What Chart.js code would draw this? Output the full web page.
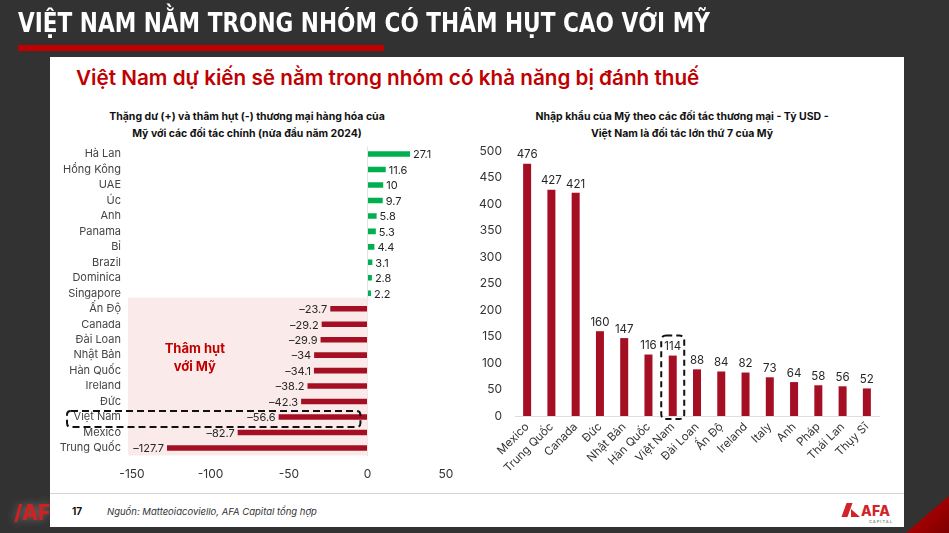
<!DOCTYPE html>
<html lang="vi">
<head>
<meta charset="utf-8">
<script src="https://cdn.jsdelivr.net/npm/chart.js@4.4.1/dist/chart.umd.min.js"></script>
<style>
    html, body { margin: 0; padding: 0; }
    body {
        width: 949px; height: 533px; overflow: hidden; position: relative;
        background: #323232;
        font-family: Inter, "Noto Sans", sans-serif;
    }
    .headline {
        position: absolute; left: 18px; top: 7px;
        color: #fff; font-family: "Liberation Sans Narrow", "DejaVu Sans Condensed", sans-serif;
        font-weight: bold; font-size: 27px; white-space: nowrap;
        transform-origin: left top;
    }
    .redbar { position: absolute; left: 18px; top: 45px; width: 366px; height: 6px; background: #c00000; }
    .corner {
        position: absolute; left: 900px; top: 480px; width: 49px; height: 53px;
        background: linear-gradient(135deg, #e00000, #7a0000);
        clip-path: polygon(100% 30%, 100% 100%, 12% 100%);
    }
    .ghost-logo {
        position: absolute; left: 14px; top: 500px; color: #d02020;
        font-weight: 800; font-size: 21px; filter: blur(0.6px);
        text-shadow: 0 0 10px rgba(255,255,255,0.35);
    }
    .panel { position: absolute; left: 50px; top: 57px; width: 854px; height: 470px; background: #fff; }
    .subtitle {
        position: absolute; left: 76px; top: 65px; color: #c00000;
        font-size: 20.7px; font-weight: 600; white-space: nowrap;
    }
    .ctitle {
        position: absolute; top: 108px; width: 360px; text-align: center;
        font-size: 10.5px; font-weight: 700; line-height: 17px; color: #111;
    }
    .footline { position: absolute; left: 50px; top: 493px; width: 854px; height: 1px; background: #d4d4d4; }
    .pageno { position: absolute; left: 72px; top: 505px; font-size: 10px; font-weight: 700; color: #111; }
    .source { position: absolute; left: 107px; top: 506px; font-size: 9.5px; font-style: italic; color: #333; }
    .logo { position: absolute; left: 842px; top: 500px; width: 50px; height: 24px; }
    .logo .mark {
        position: absolute; left: 2px; top: 3px; width: 6px; height: 14px; background: #d2232a;
        transform: skewX(-20deg);
    }
    .logo .mark2 {
        position: absolute; left: 9px; top: 9px; width: 9px; height: 8px; background: #d2232a;
        clip-path: polygon(0 0, 100% 100%, 0 100%);
    }
    .logo .txt { position: absolute; left: 19px; top: 2px; color: #d2232a; font-weight: 800; font-size: 14px; letter-spacing: 0.3px; }
    .logo small { position: absolute; left: 27px; top: 19px; font-size: 4px; color: #888; letter-spacing: 1px; font-weight: 600; }
    canvas { position: absolute; }
</style>
</head>
<body>
<div class="ghost-logo">/AF</div>
<div class="corner"></div>
<div class="headline" id="headline">VIỆT NAM NẰM TRONG NHÓM CÓ THÂM HỤT CAO VỚI MỸ</div>
<div class="redbar"></div>
<div class="panel"></div>
<div class="subtitle">Việt Nam dự kiến sẽ nằm trong nhóm có khả năng bị đánh thuế</div>
<div class="ctitle" style="left:67px">Thặng dư (+) và thâm hụt (-) thương mại hàng hóa của<br>Mỹ với các đối tác chính (nửa đầu năm 2024)</div>
<div class="ctitle" style="left:502px">Nhập khẩu của Mỹ theo các đối tác thương mại - Tỷ USD -<br>Việt Nam là đối tác lớn thứ 7 của Mỹ</div>
<canvas id="balanceChart" width="410" height="345" style="left:50px;top:140px;width:410px;height:345px"></canvas>
<canvas id="importChart" width="430" height="340" style="left:470px;top:140px;width:430px;height:340px"></canvas>
<div class="footline"></div>
<div class="pageno">17</div>
<div class="source">Nguồn: Matteoiacoviello, AFA Capital tổng hợp</div>
<div class="logo"><div class="mark"></div><div class="mark2"></div><div class="txt">AFA</div><small>CAPITAL</small></div>

<script>
// Left chart: US trade balance with partners, H1 2024 (bn USD)
const partners = ['Hà Lan', 'Hồng Kông', 'UAE', 'Úc', 'Anh', 'Panama', 'Bỉ', 'Brazil', 'Dominica', 'Singapore',
    'Ấn Độ', 'Canada', 'Đài Loan', 'Nhật Bản', 'Hàn Quốc', 'Ireland', 'Đức', 'Việt Nam', 'Mexico', 'Trung Quốc'];
const balance = [27.1, 11.6, 10, 9.7, 5.8, 5.3, 4.4, 3.1, 2.8, 2.2,
    -23.7, -29.2, -29.9, -34, -34.1, -38.2, -42.3, -56.6, -82.7, -127.7];
const balanceTicks = [-150, -100, -50, 0, 50];

// Right chart: US imports by partner (bn USD)
const importPartners = ['Mexico', 'Trung Quốc', 'Canada', 'Đức', 'Nhật Bản', 'Hàn Quốc', 'Việt Nam', 'Đài Loan',
    'Ấn Độ', 'Ireland', 'Italy', 'Anh', 'Pháp', 'Thái Lan', 'Thụy Sĩ'];
const imports = [476, 427, 421, 160, 147, 116, 114, 88, 84, 82, 73, 64, 58, 56, 52];
const importTicks = [0, 50, 100, 150, 200, 250, 300, 350, 400, 450, 500];

const GREEN = '#00b050';
const RED = '#a50f24';
const FONT = 'Inter, "Noto Sans", sans-serif';

// squeeze headline to the reference width
const hl = document.getElementById('headline');
hl.style.transform = 'scaleX(' + (692 / hl.offsetWidth) + ')';

// fix axis size and drop the label overhang padding so the plot area lands where we want
function pinSize(w, h) {
    return scale => {
        if (w != null) scale.width = w;
        if (h != null) scale.height = h;
        scale.paddingTop = 0;
        scale.paddingBottom = 0;
        scale.paddingLeft = 0;
        scale.paddingRight = 0;
    };
}

function roundRect(ctx, x, y, w, h, r) {
    ctx.beginPath();
    ctx.moveTo(x + r, y);
    ctx.lineTo(x + w - r, y);
    ctx.quadraticCurveTo(x + w, y, x + w, y + r);
    ctx.lineTo(x + w, y + h - r);
    ctx.quadraticCurveTo(x + w, y + h, x + w - r, y + h);
    ctx.lineTo(x + r, y + h);
    ctx.quadraticCurveTo(x, y + h, x, y + h - r);
    ctx.lineTo(x, y + r);
    ctx.quadraticCurveTo(x, y, x + r, y);
    ctx.closePath();
}

const fmt = v => (v < 0 ? '\u2013' + Math.abs(v) : String(v));

// Pink deficit zone behind the negative bars
const deficitZone = {
    id: 'deficitZone',
    beforeDatasetsDraw(chart) {
        const { ctx, scales: { x, y } } = chart;
        const first = balance.findIndex(v => v < 0);
        const top = y.getPixelForValue(first) - 11;
        const bottom = y.getPixelForValue(balance.length - 1) + 7.5;
        const left = x.getPixelForValue(-152.5);
        ctx.save();
        ctx.fillStyle = '#fbeaea';
        ctx.fillRect(left, top, x.getPixelForValue(0) - left, bottom - top);
        ctx.restore();
    }
};

const balanceLabels = {
    id: 'balanceLabels',
    afterDatasetsDraw(chart) {
        const { ctx, scales: { x, y }, chartArea } = chart;
        const bars = chart.getDatasetMeta(0).data;
        ctx.save();
        ctx.font = '11px ' + FONT;
        ctx.fillStyle = '#262626';
        ctx.textBaseline = 'middle';
        bars.forEach((bar, i) => {
            const v = balance[i];
            ctx.textAlign = v < 0 ? 'right' : 'left';
            ctx.fillText(fmt(v), bar.x + (v < 0 ? -3 : 3), bar.y + 1);
        });

        // "Thâm hụt với Mỹ" note
        const cy = y.getPixelForValue(partners.indexOf('Nhật Bản'));
        ctx.font = 'bold 13px ' + FONT;
        ctx.fillStyle = '#c00000';
        ctx.textAlign = 'center';
        ctx.fillText('Thâm hụt', x.getPixelForValue(-110), cy - 6);
        ctx.fillText('với Mỹ', x.getPixelForValue(-110), cy + 12);

        // dashed box around Việt Nam
        const vy = y.getPixelForValue(partners.indexOf('Việt Nam'));
        const left = chartArea.left - 65;
        ctx.setLineDash([7, 4]);
        ctx.lineWidth = 2;
        ctx.strokeStyle = '#111';
        roundRect(ctx, left, vy - 6, x.getPixelForValue(-4.5) - left, 16, 4);
        ctx.stroke();
        ctx.restore();
    }
};

new Chart(document.getElementById('balanceChart'), {
    type: 'bar',
    data: {
        labels: partners,
        datasets: [{
            data: balance,
            backgroundColor: balance.map(v => (v < 0 ? RED : GREEN)),
            barPercentage: 0.36,
            categoryPercentage: 1
        }]
    },
    options: {
        indexAxis: 'y',
        responsive: false,
        animation: false,
        layout: { padding: { top: 6.3, right: 14, left: 0, bottom: 0 } },
        plugins: { legend: { display: false }, tooltip: { enabled: false } },
        scales: {
            x: {
                min: -150,
                max: 50,
                afterBuildTicks: scale => { scale.ticks = balanceTicks.map(v => ({ value: v })); },
                afterFit: pinSize(null, 29.3),
                border: { display: false },
                grid: {
                    drawTicks: false,
                    color: ctx => (ctx.tick && ctx.tick.value === 0 ? '#e4e4e4' : 'rgba(0,0,0,0)')
                },
                ticks: { padding: 11, color: '#333', font: { family: FONT, size: 12 } }
            },
            y: {
                afterFit: pinSize(82, null),
                border: { display: false },
                grid: { display: false, drawTicks: false },
                ticks: { autoSkip: false, padding: 11, color: '#444', font: { family: FONT, size: 11 } }
            }
        }
    },
    plugins: [deficitZone, balanceLabels]
});

const importLabels = {
    id: 'importLabels',
    afterDatasetsDraw(chart) {
        const { ctx, scales: { y } } = chart;
        const bars = chart.getDatasetMeta(0).data;
        ctx.save();
        ctx.font = '11.5px ' + FONT;
        ctx.fillStyle = '#262626';
        ctx.textAlign = 'center';
        ctx.textBaseline = 'bottom';
        bars.forEach((bar, i) => ctx.fillText(String(imports[i]), bar.x, bar.y - 3));

        // dashed box around Việt Nam
        const vn = bars[importPartners.indexOf('Việt Nam')];
        const base = y.getPixelForValue(0);
        ctx.setLineDash([6, 4]);
        ctx.lineWidth = 2;
        ctx.strokeStyle = '#111';
        roundRect(ctx, vn.x - 11.5, vn.y - 20, 23, base + 3 - (vn.y - 20), 5);
        ctx.stroke();
        ctx.restore();
    }
};

new Chart(document.getElementById('importChart'), {
    type: 'bar',
    data: {
        labels: importPartners,
        datasets: [{
            data: imports,
            backgroundColor: RED,
            barPercentage: 0.33,
            categoryPercentage: 1
        }]
    },
    options: {
        responsive: false,
        animation: false,
        layout: { padding: { top: 11, right: 21, left: 0, bottom: 0 } },
        plugins: { legend: { display: false }, tooltip: { enabled: false } },
        scales: {
            x: {
                afterFit: pinSize(null, 64),
                border: { display: true, color: '#dedede' },
                grid: { display: false, drawTicks: false },
                ticks: { autoSkip: false, padding: 4, minRotation: 45, maxRotation: 45, color: '#333', font: { family: FONT, size: 11.5 } }
            },
            y: {
                min: 0,
                max: 500,
                afterBuildTicks: scale => { scale.ticks = importTicks.map(v => ({ value: v })); },
                afterFit: pinSize(45, null),
                border: { display: false },
                grid: { display: false, drawTicks: false },
                ticks: { padding: 13, color: '#333', font: { family: FONT, size: 12 } }
            }
        }
    },
    plugins: [importLabels]
});
</script>
</body>
</html>
